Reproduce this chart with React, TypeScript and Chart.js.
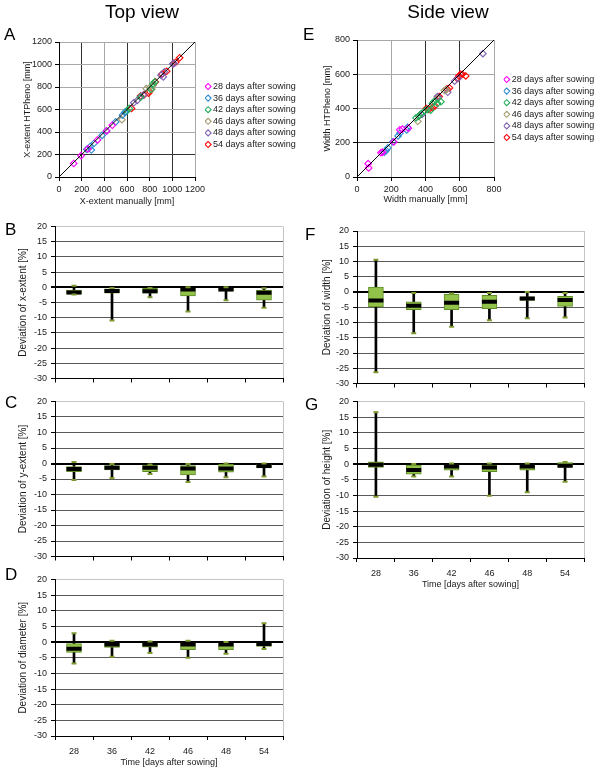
import React, { useEffect, useRef } from 'react';
import { Chart, registerables } from 'chart.js';

Chart.register(...registerables);

const FONT = '"Liberation Sans", Arial, Helvetica, sans-serif';
Chart.defaults.font.family = FONT;

// ---------- Scatter panels (A, E) ----------
const seriesLabels = [
  '28 days after sowing',
  '36 days after sowing',
  '42 days after sowing',
  '46 days after sowing',
  '48 days after sowing',
  '54 days after sowing',
];
const seriesColors = ['#FF00FF', '#2E8BCF', '#22B05A', '#A39C6E', '#8060B0', '#FF0000'];

// Panel A: X-extent manually vs HTPheno [mm]
const topDay28 = [[130, 120], [195, 190], [255, 250], [340, 330], [420, 410], [470, 460]];
const topDay36 = [[245, 245], [275, 270], [285, 240], [310, 300], [380, 370], [420, 410], [500, 490], [560, 550], [580, 575]];
const topDay42 = [[590, 580], [600, 590], [620, 610], [720, 710], [810, 780], [830, 830], [845, 845]];
const topDay46 = [[555, 510], [770, 785], [800, 795], [820, 780], [830, 815]];
const topDay48 = [[660, 660], [690, 680], [720, 715], [745, 730], [900, 905], [920, 890], [930, 935], [1005, 1005], [1015, 1010]];
const topDay54 = [[640, 610], [720, 720], [750, 730], [790, 745], [800, 760], [850, 845], [910, 915], [950, 940], [1010, 1010], [1030, 1020], [1065, 1060]];

// Panel E: Width manually vs HTPheno [mm]
const sideDay28 = [[65, 78], [68, 53], [140, 142], [150, 145], [215, 205], [250, 275], [265, 280], [300, 285]];
const sideDay36 = [[160, 145], [170, 155], [180, 170], [210, 205], [240, 240], [250, 255], [290, 275], [295, 290]];
const sideDay42 = [[345, 345], [360, 355], [375, 370], [395, 385], [410, 395], [430, 390], [440, 430], [450, 440], [470, 430], [490, 440]];
const sideDay46 = [[355, 325], [450, 440], [470, 460], [510, 505], [520, 510]];
const sideDay48 = [[365, 360], [380, 365], [470, 470], [475, 465], [530, 495], [570, 560], [590, 575], [735, 720]];
const sideDay54 = [[405, 400], [420, 395], [440, 405], [455, 415], [470, 460], [480, 470], [525, 515], [540, 520], [585, 575], [595, 590], [605, 600], [615, 600], [635, 590]];

// ---------- Box plot panels (B, C, D, F, G) ----------
const categories = ['28', '36', '42', '46', '48', '54'];

// B: deviation of x-extent [%]
const xExtMin = [-2.4, -10.9, -3.3, -8.0, -4.3, -6.7];
const xExtQ1 = [-2.3, -1.9, -1.9, -2.8, -1.3, -4.2];
const xExtMed = [-1.7, -1.2, -1.3, -0.7, -0.7, -1.8];
const xExtQ3 = [-0.9, -0.5, -0.3, 0.0, 0.0, -0.9];
const xExtMax = [0.5, -0.2, -0.2, 0.0, 0.0, -0.3];

// C: deviation of y-extent [%]
const yExtMin = [-5.3, -4.7, -3.4, -6.0, -4.4, -4.2];
const yExtQ1 = [-2.6, -2.1, -2.6, -3.7, -2.8, -1.4];
const yExtMed = [-1.8, -1.4, -1.4, -1.6, -1.6, -0.8];
const yExtQ3 = [-1.0, -0.7, -0.5, -0.7, -0.3, -0.3];
const yExtMax = [0.5, -0.2, -0.3, -0.2, 0.0, 0.0];

// D: deviation of diameter [%]
const diamMin = [-6.8, -4.7, -3.5, -5.0, -3.7, -2.2];
const diamQ1 = [-3.3, -1.7, -1.6, -2.4, -2.4, -1.4];
const diamMed = [-2.1, -0.8, -0.8, -0.8, -0.8, -0.6];
const diamQ3 = [-0.5, 0.0, 0.0, 0.0, 0.0, 0.0];
const diamMax = [2.8, 0.4, 0.2, 0.4, 0.0, 6.0];

// F: deviation of width [%]
const widthMin = [-26.3, -13.5, -11.4, -9.3, -8.6, -8.4];
const widthQ1 = [-4.9, -5.8, -5.8, -5.5, -2.8, -4.7];
const widthMed = [-2.8, -4.5, -3.5, -3.2, -2.1, -2.6];
const widthQ3 = [1.6, -3.2, -0.8, -1.1, -1.6, -1.4];
const widthMax = [10.6, -0.3, -0.5, -0.3, 0.0, -0.3];

// G: deviation of height [%]
const heightMin = [-10.4, -4.0, -4.0, -10.1, -9.0, -5.6];
const heightQ1 = [-1.1, -3.2, -1.9, -2.4, -1.9, -1.0];
const heightMed = [-0.2, -1.9, -0.8, -1.1, -0.8, -0.5];
const heightQ3 = [0.7, -0.3, 0.0, 0.0, 0.0, 0.5];
const heightMax = [16.6, 0.0, 0.2, 0.2, 0.2, 0.7];

const deviationTicks = { min: -30, max: 20, step: 5 };

const TEXT = '#1a1a1a';

function legendShift(dx: number, dy: number) {
  return {
    id: 'legendShift',
    afterLayout(chart: any) {
      const l = chart.legend;
      if (!l) return;
      l.left += dx;
      l.right = l.left + 140;
      l.top += dy;
      l.bottom += dy;
    },
  };
}

function scatterConfig(o: any) {
  const datasets: any[] = o.series.map((pts: number[][], i: number) => ({
    type: 'scatter',
    label: seriesLabels[i],
    data: pts.map(([x, y]) => ({ x, y })),
    pointStyle: 'rectRot',
    pointRadius: 3.3,
    pointBorderWidth: 1.1,
    borderColor: seriesColors[i],
    backgroundColor: 'rgba(255,255,255,0)',
    order: 1,
  }));
  datasets.push({
    type: 'line',
    label: 'identity',
    data: [{ x: 0, y: 0 }, { x: o.max, y: o.max }],
    borderColor: '#000',
    borderWidth: 1,
    pointRadius: 0,
    order: 0,
  });
  const font = { family: FONT, size: 9 };
  const plain = (v: any) => String(v);
  return {
    type: 'scatter',
    data: { datasets },
    plugins: [legendShift(o.dx, o.dy)],
    options: {
      responsive: false,
      animation: false,
      events: [],
      layout: { padding: o.padding },
      plugins: {
        tooltip: { enabled: false },
        legend: {
          position: 'right',
          fullSize: false,
          maxWidth: 60,
          labels: {
            usePointStyle: true,
            boxWidth: 1,
            boxHeight: 4.3,
            padding: 2.6,
            color: TEXT,
            font,
            filter: (item: any) => item.datasetIndex < 6,
          },
        },
      },
      scales: {
        x: {
          type: 'linear',
          min: 0,
          max: o.max,
          ticks: { stepSize: 200, color: TEXT, font, padding: 3, maxRotation: 0, autoSkip: false, callback: plain },
          grid: {
            color: (c: any) => (o.darkX.includes(c.tick?.value) ? '#333' : '#a8a8a8'),
            tickColor: '#000',
            tickLength: 4,
          },
          border: { color: '#000' },
          title: { display: true, text: o.xTitle, color: TEXT, font, padding: 0 },
          afterFit: (a: any) => { a.height = o.xHeight; },
        },
        y: {
          type: 'linear',
          min: 0,
          max: o.max,
          ticks: { stepSize: 200, color: TEXT, font, padding: 3, autoSkip: false, callback: plain },
          grid: {
            color: (c: any) => (o.darkY.includes(c.tick?.value) ? '#333' : '#a8a8a8'),
            tickColor: '#000',
            tickLength: 4,
          },
          border: { color: '#000' },
          title: { display: true, text: o.yTitle, color: TEXT, font, padding: 0 },
          afterFit: (a: any) => { a.width = o.yWidth; },
        },
      },
    },
  };
}

function boxConfig(o: any) {
  const font = { family: FONT, size: 9 };
  const titleFont = { family: FONT, size: 10 };
  return {
    type: 'bar',
    data: {
      labels: categories,
      datasets: [
        {
          type: 'bar',
          label: 'whisker',
          data: o.min.map((v: number, i: number) => [v, o.max[i]]),
          backgroundColor: '#000',
          barThickness: 2,
          grouped: false,
          order: 4,
        },
        {
          type: 'bar',
          label: 'box',
          data: o.q1.map((v: number, i: number) => [v, o.q3[i]]),
          backgroundColor: '#93C24A',
          borderColor: '#5F8C26',
          borderWidth: 1,
          borderSkipped: false,
          barThickness: 15,
          grouped: false,
          order: 3,
        },
        {
          type: 'line',
          label: 'median',
          data: o.med,
          showLine: false,
          pointStyle: 'line',
          pointRadius: 7.5,
          pointBorderWidth: 4,
          pointBorderColor: '#000',
          order: 2,
        },
        {
          type: 'line',
          label: 'max cap',
          data: o.max,
          showLine: false,
          pointStyle: 'line',
          pointRadius: 2.5,
          pointBorderWidth: 2,
          pointBorderColor: '#7D9A2F',
          order: 1,
        },
        {
          type: 'line',
          label: 'min cap',
          data: o.min,
          showLine: false,
          pointStyle: 'line',
          pointRadius: 2.5,
          pointBorderWidth: 2,
          pointBorderColor: '#7D9A2F',
          order: 1,
        },
      ],
    },
    options: {
      responsive: false,
      animation: false,
      events: [],
      layout: { padding: o.padding },
      plugins: { legend: { display: false }, tooltip: { enabled: false } },
      scales: {
        x: {
          type: 'category',
          offset: true,
          grid: {
            offset: true,
            color: (c: any) => (c.type === 'scale' ? '#c4c4c4' : 'rgba(0,0,0,0)'),
            tickColor: '#000',
            tickLength: 4,
          },
          border: { color: '#000' },
          ticks: { display: o.showX, color: TEXT, font, padding: 6, maxRotation: 0 },
          title: { display: o.showX, text: 'Time [days after sowing]', color: TEXT, font, padding: 0 },
          afterFit: (a: any) => { a.height = o.xHeight; },
        },
        y: {
          type: 'linear',
          min: deviationTicks.min,
          max: deviationTicks.max,
          ticks: { stepSize: deviationTicks.step, color: TEXT, font, padding: 4 },
          grid: {
            color: (c: any) => {
              const v = c.tick?.value;
              if (v === 0) return '#000';
              if (v === 20) return '#c4c4c4';
              return '#5a5a5a';
            },
            lineWidth: (c: any) => (c.tick?.value === 0 ? 2 : 1),
            tickColor: '#000',
            tickLength: 4,
          },
          border: { color: '#000' },
          title: { display: true, text: o.yTitle, color: TEXT, font: titleFont, padding: 0 },
          afterFit: (a: any) => { a.width = o.yWidth; },
        },
      },
    },
  };
}

function ChartPanel({ left, top, width, height, makeConfig }: any) {
  const ref = useRef<HTMLCanvasElement | null>(null);
  useEffect(() => {
    const chart = new Chart(ref.current as HTMLCanvasElement, makeConfig());
    return () => chart.destroy();
  }, []);
  return (
    <canvas
      ref={ref}
      width={width}
      height={height}
      style={{ position: 'absolute', left, top, width, height }}
    />
  );
}

function Label({ text, left, top, size, width, align }: any) {
  return (
    <div
      style={{
        position: 'absolute',
        left,
        top,
        width,
        textAlign: align || 'left',
        fontFamily: FONT,
        fontSize: size,
        lineHeight: `${size}px`,
        color: '#000',
        whiteSpace: 'nowrap',
        zIndex: 2,
      }}
    >
      {text}
    </div>
  );
}

export default function App() {
  return (
    <div
      style={{
        position: 'absolute',
        left: 0,
        top: 0,
        width: 600,
        height: 772,
        background: '#fff',
        overflow: 'hidden',
      }}
    >
      <ChartPanel
        left={0} top={0} width={300} height={215}
        makeConfig={() => scatterConfig({
          series: [topDay28, topDay36, topDay42, topDay46, topDay48, topDay54],
          max: 1200,
          xTitle: 'X-extent manually [mm]',
          yTitle: 'X-extent HTPheno [mm]',
          darkX: [200, 600, 1000],
          darkY: [200],
          padding: { left: 22, top: 42, right: 45, bottom: 8 },
          yWidth: 37, xHeight: 30, dx: 10, dy: 6,
        })}
      />
      <ChartPanel
        left={300} top={0} width={300} height={215}
        makeConfig={() => scatterConfig({
          series: [sideDay28, sideDay36, sideDay42, sideDay46, sideDay48, sideDay54],
          max: 800,
          xTitle: 'Width manually [mm]',
          yTitle: 'Width HTPheno [mm]',
          darkX: [400, 600],
          darkY: [200],
          padding: { left: 22, top: 40, right: 46, bottom: 9.6 },
          yWidth: 35, xHeight: 28.4, dx: 9.6, dy: 0,
        })}
      />
      <ChartPanel
        left={0} top={215} width={300} height={175}
        makeConfig={() => boxConfig({
          min: xExtMin, q1: xExtQ1, med: xExtMed, q3: xExtQ3, max: xExtMax,
          yTitle: 'Deviation of x-extent [%]', showX: false,
          padding: { left: 17, top: 11, right: 17, bottom: 1 }, yWidth: 38, xHeight: 6,
        })}
      />
      <ChartPanel
        left={0} top={390} width={300} height={178}
        makeConfig={() => boxConfig({
          min: yExtMin, q1: yExtQ1, med: yExtMed, q3: yExtQ3, max: yExtMax,
          yTitle: 'Deviation of y-extent [%]', showX: false,
          padding: { left: 17, top: 9, right: 17, bottom: 5 }, yWidth: 38, xHeight: 6,
        })}
      />
      <ChartPanel
        left={0} top={568} width={300} height={204}
        makeConfig={() => boxConfig({
          min: diamMin, q1: diamQ1, med: diamMed, q3: diamQ3, max: diamMax,
          yTitle: 'Deviation of diameter [%]', showX: true,
          padding: { left: 17, top: 10, right: 17, bottom: 3.6 }, yWidth: 38, xHeight: 32.4,
        })}
      />
      <ChartPanel
        left={300} top={215} width={300} height={180}
        makeConfig={() => boxConfig({
          min: widthMin, q1: widthQ1, med: widthMed, q3: widthQ3, max: widthMax,
          yTitle: 'Deviation of width [%]', showX: false,
          padding: { left: 21, top: 16, right: 16, bottom: 1 }, yWidth: 36, xHeight: 5,
        })}
      />
      <ChartPanel
        left={300} top={390} width={300} height={205}
        makeConfig={() => boxConfig({
          min: heightMin, q1: heightQ1, med: heightMed, q3: heightQ3, max: heightMax,
          yTitle: 'Deviation of height [%]', showX: true,
          padding: { left: 21, top: 10, right: 16, bottom: 4.6 }, yWidth: 36, xHeight: 32.4,
        })}
      />

      <Label text="Top view" left={42} top={2.2} size={19} width={200} align="center" />
      <Label text="Side view" left={348} top={2.2} size={19} width={200} align="center" />
      <Label text="A" left={4} top={25.6} size={17} />
      <Label text="B" left={5} top={220.6} size={17} />
      <Label text="C" left={5} top={393.6} size={17} />
      <Label text="D" left={5} top={565.6} size={17} />
      <Label text="E" left={303} top={25.6} size={17} />
      <Label text="F" left={305} top={225.6} size={17} />
      <Label text="G" left={305} top={395.6} size={17} />
    </div>
  );
}
